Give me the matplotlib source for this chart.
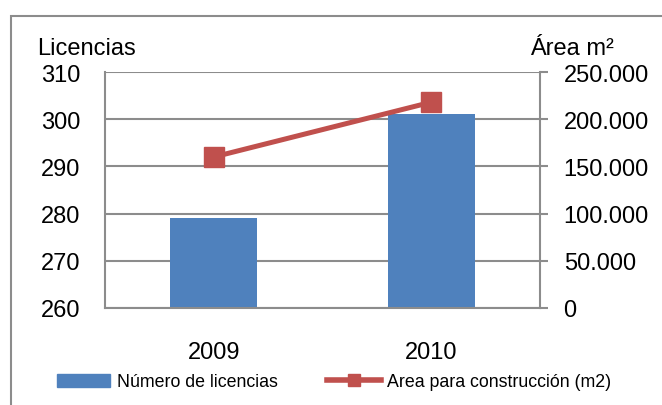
import matplotlib
matplotlib.use("Agg")
import matplotlib.pyplot as plt
from matplotlib.patches import Rectangle
from matplotlib.lines import Line2D
from matplotlib.ticker import FuncFormatter

plt.rcParams['font.family'] = ['Liberation Sans', 'DejaVu Sans']

years = ["2009", "2010"]
licencias = [279, 301]
area_m2 = [160000, 218000]
left_ticks = [260, 270, 280, 290, 300, 310]
right_ticks = [0, 50000, 100000, 150000, 200000, 250000]

bar_color = "#4F81BD"
line_color = "#C0504D"
grid_color = "#8C8C8C"

W, H = 662, 406
fig = plt.figure(figsize=(W / 100, H / 100), dpi=100)

# outer frame (cropped on right/bottom)
fig.patches.append(Rectangle((11 / W, -0.1), 2.0, 1.1 - 17 / H, transform=fig.transFigure,
                             fill=False, edgecolor="#8C8C8C", linewidth=1.5))

ax = fig.add_axes([105 / W, 1 - 309 / H, (540 - 105) / W, (309 - 73) / H])
x = list(range(len(years)))
ax.bar(x, licencias, width=0.4, color=bar_color, bottom=0, zorder=2)
ax.set_ylim(260, 310)
ax.set_xlim(-0.5, 1.5)
ax.set_yticks(left_ticks)
ax.yaxis.grid(True, color=grid_color, linewidth=1.5, zorder=0)
ax.set_axisbelow(True)
ax.set_xticks(x)
ax.set_xticklabels(years, fontsize=17)
ax.tick_params(axis='x', length=0, pad=24)
ax.tick_params(axis='y', length=0, pad=18, labelsize=17)
for s in ["top", "right"]:
    ax.spines[s].set_visible(False)
for s in ["left", "bottom"]:
    ax.spines[s].set_color(grid_color)
    ax.spines[s].set_linewidth(1.5)

ax2 = ax.twinx()
ax2.plot(x, area_m2, color=line_color, linewidth=3.6, marker="s", markersize=14, zorder=3)
ax2.set_ylim(0, 250000)
ax2.set_yticks(right_ticks)
ax2.yaxis.set_major_formatter(FuncFormatter(lambda v, p: f"{int(v):,}".replace(",", ".")))
ax2.tick_params(axis='y', length=6, width=1.5, color=grid_color, pad=11, labelsize=17)
for s in ["top", "left", "bottom"]:
    ax2.spines[s].set_visible(False)
ax2.spines["right"].set_color(grid_color)
ax2.spines["right"].set_linewidth(1.5)

fig.text(37 / W, 1 - 55 / H, "Licencias", fontsize=17, ha="left", va="baseline")
fig.text(614 / W, 1 - 55 / H, "Área m²", fontsize=17, ha="right", va="baseline")

handles = [Rectangle((0, 0), 1, 1, color=bar_color),
           Line2D([], [], color=line_color, linewidth=4, marker="s", markersize=9)]
fig.legend(handles, ["Número de licencias", "Area para construcción (m2)"],
           loc="center", bbox_to_anchor=(334 / W, 1 - 383 / H), ncol=2, frameon=False,
           fontsize=12.8, handlelength=3.0, handletextpad=0.35, columnspacing=2.8)

fig.savefig("out.png", dpi=100)
